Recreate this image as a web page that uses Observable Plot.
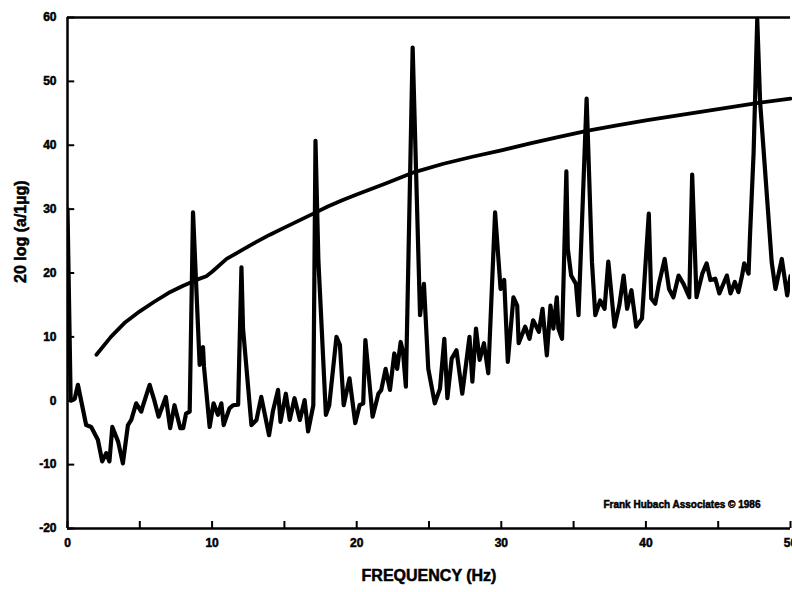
<!DOCTYPE html>
<html><head><meta charset="utf-8">
<script src="https://cdn.jsdelivr.net/npm/d3@7"></script>
<script src="https://cdn.jsdelivr.net/npm/@observablehq/plot@0.6"></script>
<style>
body{margin:0;background:#fff;}
#chart svg text{font-family:"Liberation Sans",Arial,sans-serif;font-weight:bold;stroke:#000;stroke-width:0.5px;}
</style></head><body><div id="chart"></div>
<script>
const freqHz = [0.00,0.22,0.50,0.72,1.29,1.64,2.10,2.40,2.68,2.90,3.10,3.50,3.83,4.18,4.41,4.75,5.10,5.20,5.68,6.00,6.30,6.80,7.10,7.40,7.80,8.00,8.20,8.45,8.68,9.14,9.37,9.44,9.83,10.10,10.40,10.64,10.80,11.20,11.45,11.80,12.03,12.14,12.72,13.07,13.40,13.94,14.20,14.56,14.73,15.10,15.37,15.70,16.07,16.40,16.64,17.00,17.15,17.35,17.87,18.10,18.60,18.84,19.10,19.50,19.90,20.20,20.45,20.60,21.10,21.50,21.70,22.00,22.30,22.60,22.80,23.04,23.20,23.40,23.87,24.38,24.65,24.95,25.40,25.76,26.06,26.27,26.57,26.90,27.30,27.80,28.00,28.25,28.50,28.80,29.10,29.57,29.95,30.20,30.45,30.84,31.10,31.20,31.65,31.95,32.20,32.60,32.85,33.15,33.40,33.60,33.84,33.95,34.20,34.50,34.60,34.83,35.16,35.34,35.90,36.27,36.50,36.84,37.14,37.40,37.83,38.16,38.46,38.70,39.00,39.33,39.73,40.20,40.37,40.65,40.90,41.30,41.60,41.90,42.26,42.60,43.00,43.20,43.50,43.90,44.20,44.46,44.80,45.08,45.60,45.85,46.15,46.40,46.65,46.80,47.10,47.20,47.45,47.70,47.90,48.15,48.40,48.70,48.96,49.40,49.77,50.00];
const levelDb = [30.0,0.0,0.3,2.5,-3.8,-4.1,-6.1,-9.5,-8.2,-9.5,-4.1,-6.4,-9.8,-3.8,-3.0,-0.4,-1.7,-0.9,2.5,0.1,-2.5,0.6,-4.3,-0.7,-4.3,-4.3,-2.0,-1.7,29.5,5.6,8.4,5.3,-4.1,-0.4,-2.2,-0.4,-3.8,-1.2,-0.7,-0.6,20.9,11.3,-3.8,-3.0,0.6,-5.4,-1.7,1.7,-3.3,1.1,-3.0,0.4,-3.0,0.1,-4.8,-0.7,40.7,22.0,-2.2,-0.7,10.0,8.7,-0.7,3.5,-3.5,-0.7,-0.4,9.5,-2.5,1.1,1.7,5.0,1.7,7.4,5.0,9.2,7.7,2.2,55.3,13.4,18.3,5.0,-0.4,1.9,9.7,0.4,6.6,7.9,1.1,10.0,3.0,11.3,6.4,9.0,4.3,29.5,17.5,18.9,6.1,16.2,14.9,9.0,11.6,9.7,12.6,10.8,14.4,7.1,14.9,11.3,16.2,11.3,9.7,35.9,23.8,19.6,18.3,13.4,47.3,21.7,13.4,15.7,14.4,21.8,11.6,14.9,19.6,14.4,17.3,11.6,12.9,29.3,16.0,15.2,18.3,22.2,17.5,16.2,19.6,18.3,16.2,35.4,16.2,19.9,21.5,18.9,19.1,16.8,19.6,16.8,18.6,17.0,19.6,21.5,19.9,25.9,38.9,59.7,46.7,38.9,31.1,21.7,17.5,22.2,16.5,19.5];
const curveHz = [2,3,4,5,6,7,8,9,9.6,10,11,12,13,14,15,16,17,18,19,20,22,24,26,28,30,32,34,36,38,40,42,44,46,48,50];
const curveDb = [7.2,10.0,12.3,14.0,15.5,16.9,18.0,19.0,19.5,20.2,22.2,23.5,24.8,26.0,27.1,28.2,29.3,30.4,31.4,32.3,34.0,35.8,37.1,38.2,39.2,40.3,41.3,42.3,43.1,43.9,44.6,45.3,46.0,46.7,47.3];
const xTicks = [0,5,10,15,20,25,30,35,40,45,50];
const xLabels = [0,10,20,30,40,50];
const yTicks = [-20,-10,0,10,20,30,40,50,60];
const xTitle = "FREQUENCY (Hz)";
const yTitle = "20 log (a/1µg)";
const credit = "Frank Hubach Associates © 1986";

const spectrum = freqHz.map((f, i) => ({f, db: levelDb[i]}));
const limit = curveHz.map((f, i) => ({f, db: curveDb[i]}));

const chart = Plot.plot({
  width: 792, height: 592,
  marginLeft: 67, marginRight: 2, marginTop: 17, marginBottom: 64,
  style: {fontFamily: "Liberation Sans, Arial, sans-serif", fontSize: "12px", color: "#000", background: "#fff"},
  x: {domain: [0, 50]},
  y: {domain: [-20, 60]},
  marks: [
    Plot.ruleY([60], {stroke: "#000", strokeWidth: 2.5}),
    Plot.ruleY([-20], {stroke: "#000", strokeWidth: 2.5}),
    Plot.ruleX([0], {stroke: "#000", strokeWidth: 2.5}),
    Plot.ruleY(yTicks, {y: d => d, x1: 0, x2: 0.5, stroke: "#000", strokeWidth: 2}),
    Plot.ruleX(xTicks, {x: d => d, y1: -20, y2: -18.9, stroke: "#000", strokeWidth: 2}),
    Plot.line(limit, {x: "f", y: "db", stroke: "#000", strokeWidth: 3.8}),
    Plot.line(spectrum, {x: "f", y: "db", stroke: "#000", strokeWidth: 4.2, clip: true}),
    Plot.axisX(xLabels, {tickSize: 0, tickPadding: 10, label: null, fontSize: 12, tickFormat: d => String(d)}),
    Plot.axisY(yTicks, {tickSize: 0, tickPadding: 11, label: null, fontSize: 12, tickFormat: d => String(d)}),
    Plot.text([xTitle], {text: d => d, frameAnchor: "bottom", dy: 52, fontSize: 16, fontWeight: "bold", fill: "#000"}),
    Plot.text([yTitle], {text: d => d, frameAnchor: "left", dx: -47, dy: 10, rotate: -90, fontSize: 16, fontWeight: "bold", fill: "#000"}),
    Plot.text([credit], {text: d => d, frameAnchor: "bottom-right", dx: -30, dy: -21, textAnchor: "end", fontSize: 10, fontWeight: "bold", fill: "#000"})
  ]
});
document.getElementById("chart").appendChild(chart);
</script></body></html>
